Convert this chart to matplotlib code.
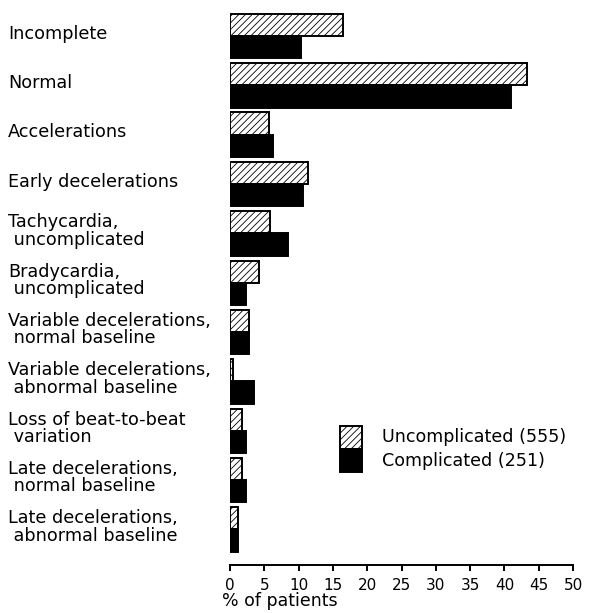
import numpy as np
import matplotlib
matplotlib.use("Agg")
import matplotlib.pyplot as plt
import matplotlib.transforms as mtransforms
from matplotlib.patches import Rectangle

plt.rcParams["font.family"] = ["DejaVu Sans"]
plt.rcParams["hatch.linewidth"] = 0.6

# -----------------------------
# Data (% of patients)
# -----------------------------
categories = [
    "Incomplete",
    "Normal",
    "Accelerations",
    "Early decelerations",
    "Tachycardia,\n uncomplicated",
    "Bradycardia,\n uncomplicated",
    "Variable decelerations,\n normal baseline",
    "Variable decelerations,\n abnormal baseline",
    "Loss of beat-to-beat\n variation",
    "Late decelerations,\n normal baseline",
    "Late decelerations,\n abnormal baseline",
]
uncomplicated = [16.5, 43.3, 5.7, 11.3, 5.9, 4.2, 2.7, 0.5, 1.8, 1.8, 1.2]
complicated = [10.3, 41.0, 6.2, 10.7, 8.5, 2.4, 2.7, 3.5, 2.3, 2.3, 1.2]
legend_labels = ["Uncomplicated (555)", "Complicated (251)"]
xticks = np.arange(0, 55, 5)

# -----------------------------
# Plot
# -----------------------------
fig = plt.figure(figsize=(5.9, 6.13), dpi=100)
ax = fig.add_axes([230 / 590, 1 - 565 / 613, 343 / 590, 555 / 613])

y = np.arange(len(categories))
h = 0.45
ax.barh(y - h / 2, uncomplicated, height=h, color="white", edgecolor="black",
        linewidth=1.4, hatch="/////")
ax.barh(y + h / 2, complicated, height=h, color="black", edgecolor="black",
        linewidth=1.4)

ax.set_xlim(0, 50)
ax.set_ylim(10.72, -0.527)
ax.set_xticks(xticks)
ax.set_xticklabels([str(t) for t in xticks], fontsize=11)
ax.set_yticks([])
for s in ["top", "right", "left"]:
    ax.spines[s].set_visible(False)
ax.spines["bottom"].set_linewidth(1.4)
ax.tick_params(axis="x", length=4, width=1.4, pad=5)

# category labels, left aligned at the figure edge
trans = mtransforms.blended_transform_factory(fig.transFigure, ax.transData)
for yi, cat in zip(y, categories):
    ax.text(8 / 590, yi - 0.05, cat, transform=trans, fontsize=12.7,
            ha="left", va="center", linespacing=0.95)

fig.text(222 / 590, 1 - 601 / 613, "% of patients", fontsize=12.5,
         ha="left", va="center")

# legend drawn by hand
lx, lw, lh = (340 - 230) / 343, 22 / 343, 23 / 555
ly = 1 - (449 - 10) / 555
ax.add_patch(Rectangle((lx, ly), lw, lh, transform=ax.transAxes, facecolor="white",
                       edgecolor="black", hatch="/////", linewidth=1.4, clip_on=False))
ax.add_patch(Rectangle((lx, ly - lh), lw, lh, transform=ax.transAxes, facecolor="black",
                       edgecolor="black", linewidth=1.4, clip_on=False))
ax.text(lx + lw + 20 / 343, ly + lh / 2, legend_labels[0], transform=ax.transAxes,
        fontsize=12.6, va="center")
ax.text(lx + lw + 20 / 343, ly - lh / 2, legend_labels[1], transform=ax.transAxes,
        fontsize=12.6, va="center")

plt.savefig("out.png", dpi=100)
plt.close(fig)
